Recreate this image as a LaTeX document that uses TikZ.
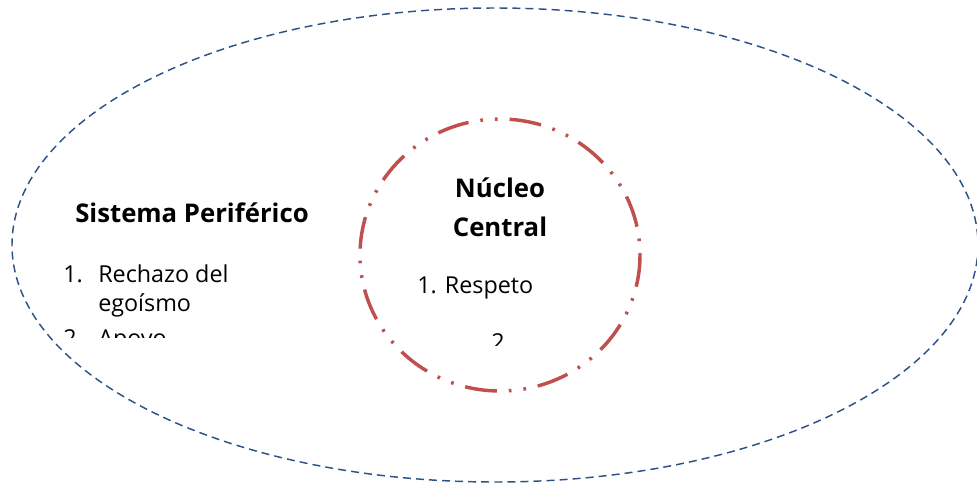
\documentclass[tikz,border=0pt]{standalone}
\usepackage{fontspec}
\setmainfont{Open Sans}
\definecolor{azulborde}{HTML}{2C5287}
\definecolor{rojonucleo}{HTML}{C0504D}
\tikzset{
  periferia/.style={draw=azulborde, line width=1.1pt, dash pattern=on 6pt off 3.8pt},
  nucleo/.style={draw=rojonucleo, line width=2.6pt, dash pattern=on 24pt off 9pt on 2pt off 9pt on 2pt off 9pt},
  titulo/.style={font=\fontsize{19.3}{23}\selectfont\bfseries, inner sep=0pt, anchor=base},
  lista/.style={font=\fontsize{17.5}{21}\selectfont, inner sep=0pt, anchor=base west},
}
\begin{document}
\begin{tikzpicture}[x=0.75pt, y=-0.75pt]
    \useasboundingbox (0,0) rectangle (977,485);
    % sistema periferico y nucleo central
    \draw[periferia] (495,245) ellipse [x radius=483, y radius=237];
    \draw[nucleo] (500,255) ellipse [x radius=140, y radius=136];
    \node[titulo] (sistema) at (192,222) {Sistema Periférico};
    \node[titulo] (nucleoA) at (500,197) {Núcleo};
    \node[titulo] (nucleoB) at (500,236) {Central};
    % listas recortadas
    \begin{scope}
        \clip (40,250) rectangle (340,337);
        \node[lista] (numA) at (63,282) {1.};
        \node[lista] (rechazo) at (98,282) {Rechazo del};
        \node[lista] (egoismo) at (98,311) {egoísmo};
        \node[lista] (numB) at (63,346) {2.};
        \node[lista] (apoyo) at (98,346) {Apoyo};
    \end{scope}
    \begin{scope}
        \clip (400,260) rectangle (600,345);
        \node[lista] (respeto) at (417,293) {1. Respeto};
        \node[lista, anchor=base] (numC) at (498,350) {2};
    \end{scope}
\end{tikzpicture}
\end{document}
